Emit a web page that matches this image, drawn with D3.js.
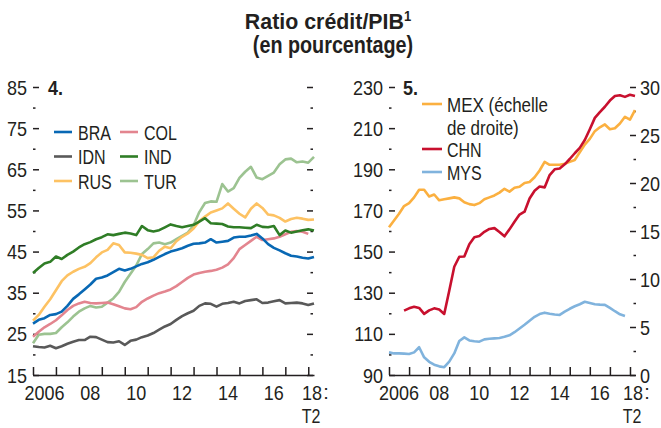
<!DOCTYPE html>
<html>
<head>
<meta charset="utf-8">
<script src="https://cdn.jsdelivr.net/npm/d3@7"></script>
<style>
  body { margin: 0; background: #fff; }
  text { font-family: "Liberation Sans", Arial, sans-serif; fill: #231f20; }
</style>
</head>
<body>
<div id="chart"></div>
<script>
// quarterly data, 2006 T1 -> 2018 T2
var bra = [27.5,28.4,28.8,29.6,29.8,30.4,31.8,33.5,34.6,35.8, 37,38.4,38.7,39.2,40,40.8,40.4,40.8,41.4,42,
  42.4,43,43.7,44.4,45,45.4,45.8,46.4,46.9,47, 47.2,48,47.2,47.4,47.6,48.4,48.6,48.6,48.9,49.3,
  48.2,46.8,45.9,45.3,44.6,44,43.8,43.5,43.3,43.7];
var col = [24.3,25.5,26.6,27.4,28.3,29.5,30.8,31.8,32.4,32.8, 32.5,32.4,32.5,32.6,32.2,31.7,31.2,31,31.5,32.8,
  33.6,34.3,34.9,35.3,35.8,36.6,37.6,38.6,39.4,39.8, 40.1,40.3,40.6,41.1,41.9,43.4,45.6,46.6,47.6,48.6,
  47.8,48,48.2,48.6,49.2,49.8,50,49.8,49.3];
var idn = [22,21.8,21.7,22.1,21.5,22,22.6,23.1,23.5,23.5, 24.3,24.2,23.6,23,22.9,23.2,22.3,23.3,23.6,24.2,
  24.6,25.2,26,26.8,27.4,28.4,29.3,30,30.6,31.8, 32.4,32.3,31.6,32.3,32.5,32.8,32.4,33,33.2,33.4,
  32.5,32.6,32.9,33.2,32.4,32.5,32.6,32.4,32,32.4];
var ind = [39.8,41,42.1,42.5,43.8,43.2,44.2,45,46,46.8, 47.3,48,48.5,49.2,49,49.3,49.6,49.4,49,51.2,
  50.2,49.9,50.2,50.9,51.6,51.2,50.9,51.2,51.5,52.3, 53.1,51.9,51.8,51.7,51.1,50.9,50.9,50.8,50.7,51.5,
  51,50.9,51.2,49,50.1,49.6,49.9,50.2,50.4,50.1];
var rus = [28.2,29.6,31.6,33.4,35.6,37.8,39.2,40.1,40.8,41.3, 42.2,43.6,44.8,45.4,47,46.6,44.8,44.7,44.5,44.2,
  43.4,43.6,45.2,46.2,45.8,47.5,48.6,49.4,50.6,52.4, 53.5,54.5,55,55.5,56.7,55.4,54.2,53.3,55.4,56.7,
  55.6,54,53.8,53.2,52.3,52.9,53.2,53,52.7,52.8];
var tur = [22.7,24.8,25,25,25.2,26.6,27.8,29.2,30.4,31.2, 31.8,31.4,31.6,32.6,33.6,35.2,37.6,39.6,41.6,44.4,
  45.6,47,47.2,46.8,47.2,48,48.8,49.6,51.4,54.6, 56.8,57.2,57.1,61.4,59.6,60.4,62.9,64.4,65.6,63,
  62.6,63.4,64.2,66.2,67.4,67.6,66.7,66.9,66.6,68];

var mex = [15.4,16.1,16.8,17.6,17.9,18.5,19.3,19.3,18.6,18.8, 18.2,18.3,18.4,18.5,18.4,18,17.8,17.7,17.9,18.3,
  18.5,18.7,19,19.4,19.1,19.5,19.6,20,20.1,20.6, 21.3,22.2,21.9,21.9,21.9,22,22.2,22.4,23.2,24,
  24.6,25.4,25.8,26.1,25.6,25.7,26.2,26.9,26.6,27.6];
var chn = [null,null,null,121.3,122.4,123.2,122.6,119.7,121.4,122.4, 121.8,119.7,131,142.6,147.5,147.6,153.6,157,157.6,159.6,
  161,161.4,159.5,157.4,160.8,164.5,168,169.4,175.8,179.6, 181.6,181.2,187.2,190,190.4,192.4,195,197.8,200.4,204.2,
  209.5,215,217.8,220.4,223.4,225.6,226,225.2,226.2,225.6];
var mys = [101,100.5,100.5,100.4,100.2,101,103.5,98.6,96.4,95, 94.2,93.8,96.5,100.5,106.5,108.3,106.8,106.4,106.2,107.3,
  107.6,107.8,108,108.6,109.3,110.8,112.6,114.4,116.4,118.3, 119.6,120.3,119.8,119.4,119.2,120.8,122.2,123.4,124.4,125.6,
  125,124.4,124.2,124.1,122.6,121,119.5,118.7];

var years = d3.range(2006, 2019);
var yearLabels = ["2006", "08", "10", "12", "14", "16", "18"];
var leftTicks = [15, 25, 35, 45, 55, 65, 75, 85];
var leftMinor = [20, 30, 40, 50, 60, 70, 80];
var rightTicksA = [90, 110, 130, 150, 170, 190, 210, 230];
var rightMinorA = [100, 120, 140, 160, 180, 200, 220];
var rightTicksB = [0, 5, 10, 15, 20, 25, 30];
var rightMinorB = [2.5, 7.5, 12.5, 17.5, 22.5, 27.5];

var leftSeries = [
  {name: "BRA", values: bra, color: "#0868b4"},
  {name: "COL", values: col, color: "#e3858f"},
  {name: "IDN", values: idn, color: "#595959"},
  {name: "IND", values: ind, color: "#2f7d26"},
  {name: "RUS", values: rus, color: "#fdc263"},
  {name: "TUR", values: tur, color: "#9cc391"}
];

var FS = "20px";

var svg = d3.select("#chart").append("svg")
    .attr("width", 661)
    .attr("height", 428);

// narrow the text horizontally (the original uses a condensed face)
function squeeze(sel, k) {
  sel.each(function() {
    var t = d3.select(this);
    var x = +t.attr("x") || 0, y = +t.attr("y") || 0;
    t.attr("x", null).attr("y", null)
      .attr("transform", "translate(" + x + "," + y + ") scale(" + k + ",1)");
  });
}

// title
var title = svg.append("text")
    .attr("x", 328).attr("y", 29)
    .attr("text-anchor", "middle")
    .style("font-weight", "bold")
    .style("font-size", "23px");
title.append("tspan").text("Ratio crédit/PIB");
title.append("tspan").attr("dy", -8).style("font-size", "14px").text("1");
squeeze(title, 0.93);
var title2 = svg.append("text")
    .attr("x", 333).attr("y", 53)
    .attr("text-anchor", "middle")
    .style("font-weight", "bold")
    .style("font-size", "23px")
    .text("(en pourcentage)");
squeeze(title2, 0.86);

function quarterOf(i) { return 2006 + i / 4; }

function styleAxis(g) {
  g.selectAll(".domain").remove();
  g.selectAll("line").attr("stroke", "#231f20").attr("stroke-width", 1.5);
  g.selectAll("text").style("font-size", FS).attr("fill", "#231f20");
  squeeze(g.selectAll("text"), 0.9);
}

function drawXAxis(x, yBase) {
  var g = svg.append("g")
      .attr("transform", "translate(0," + yBase + ")")
      .call(d3.axisBottom(x).tickValues(years).tickSize(-8).tickSizeOuter(0).tickFormat(""));
  g.select(".domain").attr("stroke", "#231f20").attr("stroke-width", 1.5);
  g.selectAll(".tick line").attr("stroke", "#231f20").attr("stroke-width", 1.5);

  var labs = svg.append("g");
  yearLabels.forEach(function(l, i) {
    var yr = 2006 + 2 * i;
    var px = (yr === 2018) ? x.range()[1] - 2 : x(yr + 0.5);
    labs.append("text")
        .attr("x", px).attr("y", yBase + 25)
        .attr("text-anchor", "middle")
        .style("font-size", FS)
        .text(l);
  });
  squeeze(labs.selectAll("text"), 0.9);
  var c = labs.append("text")
      .attr("x", x.range()[1] + 12).attr("y", yBase + 24)
      .attr("text-anchor", "middle")
      .style("font-size", FS)
      .text(":");
  var t2 = labs.append("text")
      .attr("x", x.range()[1] - 3).attr("y", yBase + 48)
      .attr("text-anchor", "middle")
      .style("font-size", FS)
      .text("T2");
  squeeze(t2, 0.8);
}

function drawYTicks(y, xPos, ticks, minor, side, labelled, pad) {
  var major = side === "left" ? d3.axisLeft(y) : d3.axisRight(y);
  var g = svg.append("g")
      .attr("transform", "translate(" + xPos + ",0)")
      .call(major.tickValues(ticks).tickSize(-6).tickPadding(pad)
        .tickFormat(labelled ? d3.format("d") : ""));
  g.selectAll(".tick text").attr("dy", null).attr("y", 7);
  styleAxis(g);
  var m = side === "left" ? d3.axisLeft(y) : d3.axisRight(y);
  var gm = svg.append("g")
      .attr("transform", "translate(" + xPos + ",0)")
      .call(m.tickValues(minor).tickSize(-2.5).tickFormat(""));
  styleAxis(gm);
}

function drawLine(x, y, values, color) {
  var line = d3.line()
      .defined(function(d) { return d != null; })
      .x(function(d, i) { return x(quarterOf(i)); })
      .y(function(d) { return y(d); });
  svg.append("path")
      .datum(values)
      .attr("fill", "none")
      .attr("stroke", color)
      .attr("stroke-width", 2.6)
      .attr("stroke-linejoin", "round")
      .attr("d", line);
}

// ---------- panel 4 ----------
var xL = d3.scaleLinear().domain([2006, 2018.25]).range([33, 314]);
var yL = d3.scaleLinear().domain([15, 85]).range([375, 87]);

drawYTicks(yL, 33, leftTicks, leftMinor, "left", true, 6);
drawYTicks(yL, 313, leftTicks, leftMinor, "right", false, 4);

// draw order: back to front
["TUR", "RUS", "IDN", "COL", "IND", "BRA"].forEach(function(n) {
  var s = leftSeries.find(function(d) { return d.name === n; });
  drawLine(xL, yL, s.values, s.color);
});
drawXAxis(xL, 375);

squeeze(svg.append("text").attr("x", 48).attr("y", 95)
    .style("font-weight", "bold").style("font-size", FS).text("4."), 0.9);

// legend 4
leftSeries.forEach(function(s, i) {
  var c = i % 2, row = Math.floor(i / 2);
  var lx = c === 0 ? 54 : 120;
  var ly = 132 + row * 24.5;
  svg.append("line")
      .attr("x1", lx).attr("x2", lx + 18)
      .attr("y1", ly).attr("y2", ly)
      .attr("stroke", s.color).attr("stroke-width", 2.6);
  squeeze(svg.append("text")
      .attr("x", lx + 24).attr("y", ly + 7.5)
      .style("font-size", FS)
      .text(s.name), 0.8);
});

// ---------- panel 5 ----------
var xR = d3.scaleLinear().domain([2006, 2018.25]).range([389, 635]);
var yRa = d3.scaleLinear().domain([90, 230]).range([375, 87]);
var yRb = d3.scaleLinear().domain([0, 30]).range([375, 87]);

drawYTicks(yRa, 389, rightTicksA, rightMinorA, "left", true, 6);
drawYTicks(yRb, 636, rightTicksB, rightMinorB, "right", true, 4);

drawLine(xR, yRa, mys, "#80b3dd");
drawLine(xR, yRb, mex, "#fbb040");
drawLine(xR, yRa, chn, "#c8102e");
drawXAxis(xR, 375);

squeeze(svg.append("text").attr("x", 403).attr("y", 95)
    .style("font-weight", "bold").style("font-size", FS).text("5."), 0.9);

// legend 5
var leg5 = [
  {label: ["MEX (échelle", "de droite)"], color: "#fbb040", y: 104, k: 0.85},
  {label: ["CHN"], color: "#c8102e", y: 149, k: 0.8},
  {label: ["MYS"], color: "#80b3dd", y: 172, k: 0.8}
];
leg5.forEach(function(s) {
  svg.append("line")
      .attr("x1", 422).attr("x2", 442)
      .attr("y1", s.y).attr("y2", s.y)
      .attr("stroke", s.color).attr("stroke-width", 2.6);
  s.label.forEach(function(t, j) {
    squeeze(svg.append("text")
        .attr("x", 447).attr("y", s.y + 8 + j * 22.5)
        .style("font-size", FS)
        .text(t), s.k);
  });
});
</script>
</body>
</html>
